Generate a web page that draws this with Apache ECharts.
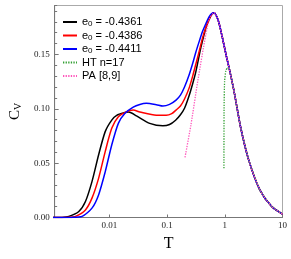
<!DOCTYPE html>
<html><head><meta charset="utf-8">
<script src="https://cdn.jsdelivr.net/npm/echarts@6/dist/echarts.min.js"></script>
<style>html,body{margin:0;padding:0;background:#fff}#c{width:291px;height:259px}</style>
</head><body><div id="c"></div>
<script>
const T_BLACK = [0.001,0.0015,0.00198,0.00294,0.00383,0.00497,0.00647,0.00843,0.01094,0.01333,0.0186,0.0215,0.0294,0.0499,0.0844,0.11,0.14,0.17,0.2,0.24,0.28,0.314,0.35,0.383,0.43,0.48,0.533,0.59,0.65];
const CV_BLACK = [0,0.0001,0.001,0.0055,0.0147,0.033,0.0575,0.079,0.0896,0.094,0.0965,0.097,0.0935,0.0866,0.0843,0.0855,0.0895,0.0945,0.1005,0.112,0.124,0.134,0.146,0.156,0.167,0.176,0.182,0.1865,0.1884];
const T_RED = [0.001,0.002,0.00258,0.00383,0.00497,0.00647,0.00843,0.01094,0.01425,0.0198,0.0258,0.0336,0.0648,0.0961,0.12,0.1426,0.17,0.2,0.24,0.28,0.314,0.36,0.41,0.47,0.533,0.59,0.65];
const CV_RED = [0,0.0002,0.001,0.007,0.0178,0.036,0.0606,0.082,0.0927,0.0973,0.0988,0.097,0.094,0.094,0.0955,0.0988,0.1025,0.109,0.119,0.131,0.141,0.153,0.165,0.175,0.1825,0.187,0.1884];
const T_BLUE = [0.001,0.0022,0.00335,0.00497,0.00647,0.00843,0.01094,0.01425,0.01857,0.0258,0.0336,0.0436,0.0648,0.0844,0.11,0.1426,0.17,0.2,0.24,0.28,0.314,0.36,0.41,0.47,0.533,0.59,0.65];
const CV_BLUE = [0,0.0001,0.001,0.0086,0.0208,0.042,0.0667,0.0866,0.0958,0.1015,0.104,0.105,0.1038,0.1025,0.104,0.108,0.1125,0.12,0.131,0.1425,0.152,0.162,0.171,0.1785,0.1845,0.1875,0.1884];
const T_TAIL = [0.771,0.902,1.057,1.21,1.47,1.87,2.59,4.04,6.5,10];
const CV_TAIL = [0.181,0.166,0.149,0.1355,0.114,0.0835,0.053,0.0254,0.0101,0.0032];
const T_PA = [0.204,0.258,0.336,0.467,0.54,0.65];
const CV_PA = [0.0554,0.085,0.124,0.168,0.182,0.1884];
const T_HT = [0.965,0.97,0.99,1.04,1.12,1.21];
const CV_HT = [0.0453,0.1,0.125,0.135,0.138,0.1355];
const NAMES = ['e0 = -0.4361','e0 = -0.4386','e0 = -0.4411','HT n=17','PA [8,9]'];
const X_TICKS = ['0.01','0.1','1','10'];

function zip(t, v) { return t.map((x, i) => [x, v[i]]); }
const tailFrom = (tmin) => zip(T_TAIL, CV_TAIL).filter(p => p[0] > tmin);

const serif = 'Liberation Serif';
const sans = 'Liberation Sans';
function mk(name, data, color, dotted, smooth) {
  return {type:'line', name, data, symbol:'none', smooth: smooth, clip:true,
    lineStyle:{color, width: dotted ? 1.3 : 1.5, type: dotted ? [1.3,1.3] : 'solid'},
    itemStyle:{color}};
}
const chart = echarts.init(document.getElementById('c'), null, {renderer:'canvas'});
chart.setOption({
  animation:false,
  grid:{left:50.5, right:8.5, top:5.5, bottom:41.5, show:true, borderColor:'#aaa', borderWidth:1},
  legend:{orient:'vertical', left:57, top:11, itemWidth:14, itemHeight:8, itemGap:1.5,
    data: NAMES, itemStyle:{opacity:0},
    textStyle:{fontFamily:sans, fontSize:11, color:'#000', lineHeight:12,
      rich:{s:{fontFamily:sans, fontSize:8, verticalAlign:'bottom', lineHeight:7, color:'#000'}}},
    formatter: n => n.replace(/^e0/, 'e{s|0}')},
  xAxis:{type:'log', logBase:10, min:0.00112, max:10,
    name:'T', nameLocation:'middle', nameGap:17,
    nameTextStyle:{fontFamily:serif, fontSize:16, color:'#000'},
    axisLine:{lineStyle:{color:'#777'}},
    axisTick:{inside:true, length:3, lineStyle:{color:'#777'}},
    axisLabel:{fontFamily:serif, fontSize:9, color:'#222', margin:4, showMinLabel:false,
      formatter: v => { const s = String(+(+v).toPrecision(3)); return X_TICKS.includes(s) ? s : ''; }},
    splitLine:{show:false}},
  yAxis:[
    {type:'value', min:0, max:0.195, interval:0.05, position:'left',
     name:'C{v|V}', nameLocation:'middle', nameRotate:90, nameGap:30,
     nameTextStyle:{fontFamily:serif, fontSize:15, color:'#000',
       rich:{v:{fontFamily:serif, fontSize:10, verticalAlign:'bottom', lineHeight:10, color:'#000'}}},
     axisLine:{show:true, lineStyle:{color:'#777'}},
     axisTick:{inside:true, length:4, lineStyle:{color:'#777'}},
     axisLabel:{fontFamily:serif, fontSize:9, color:'#222', margin:5, showMaxLabel:false,
       formatter: v => v.toFixed(2)},
     splitLine:{show:false}},
    {type:'value', min:0, max:0.195, interval:0.01, position:'left',
     axisLine:{show:false}, axisTick:{inside:true, length:2.5, lineStyle:{color:'#777'}},
     axisLabel:{show:false}, splitLine:{show:false}}
  ],
  series:[
    mk(NAMES[0], zip(T_BLACK, CV_BLACK).concat(tailFrom(0.65)), '#000000', false, 0.25),
    mk(NAMES[1], zip(T_RED, CV_RED).concat(tailFrom(0.65)), '#ff0000', false, 0.25),
    mk(NAMES[2], zip(T_BLUE, CV_BLUE).concat(tailFrom(0.65)), '#0000ff', false, 0.25),
    mk(NAMES[3], zip(T_HT, CV_HT).concat(tailFrom(1.21)), '#33a033', true, 0.15),
    mk(NAMES[4], zip(T_PA, CV_PA).concat(tailFrom(0.65)), '#ff55bb', true, 0.25)
  ]
});
</script></body></html>
